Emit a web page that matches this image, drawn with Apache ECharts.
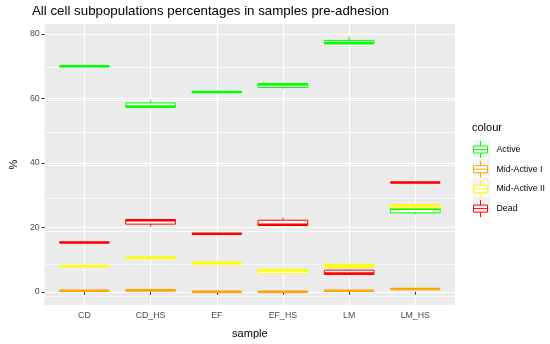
<!DOCTYPE html>
<html><head><meta charset="utf-8">
<script src="https://cdn.jsdelivr.net/npm/echarts@6/dist/echarts.min.js"></script>
<style>html,body{margin:0;padding:0;background:#fff}#c{width:550px;height:344px}</style>
</head><body><div id="c"></div>
<script>
const samples = ['CD','CD_HS','EF','EF_HS','LM','LM_HS'];
const groups = ['Active','Mid-Active I','Mid-Active II','Dead'];
const colours = ['#00FF00','#FFA500','#FFFF00','#FF0000'];
// each entry: [min, Q1, median, Q3, max]
const active = [[69.8,69.9,70.0,70.05,70.1],[57.2,57.2,57.5,58.6,59.6],[61.8,61.9,62.0,62.1,62.2],[63.0,63.4,64.3,64.6,64.7],[77.0,77.0,77.2,78.0,79.2],[24.0,24.5,25.8,25.9,26.0]];
const midActive1 = [[0.2,0.25,0.3,0.35,0.4],[0.2,0.3,0.45,0.6,0.7],[0.0,0.0,0.05,0.1,0.1],[0.0,0.0,0.05,0.1,0.1],[0.2,0.25,0.3,0.35,0.4],[0.8,0.85,0.9,0.95,1.0]];
const midActive2 = [[7.9,7.95,8.0,8.1,8.1],[10.3,10.35,10.6,10.8,10.85],[8.5,8.6,8.9,9.2,9.7],[5.5,5.6,6.6,6.8,6.8],[7.6,7.7,8.0,8.5,8.6],[25.9,26.0,26.8,26.9,27.3]];
const dead = [[15.2,15.25,15.3,15.35,15.4],[20.3,21.0,22.2,22.4,22.4],[17.9,17.95,18.0,18.05,18.1],[20.6,20.6,20.8,22.2,23.0],[5.2,5.4,5.7,6.7,6.9],[33.8,33.85,33.9,33.95,34.0]];
const yMajor = [0,20,40,60,80];
const groupData = [active, midActive1, midActive2, dead];

const xPos = samples.map((s,i)=>i+1);

function renderItem(params, api){
  const x = api.value(0);
  const pMin = api.coord([x, api.value(1)]);
  const pQ1 = api.coord([x, api.value(2)]);
  const pMed = api.coord([x, api.value(3)]);
  const pQ3 = api.coord([x, api.value(4)]);
  const pMax = api.coord([x, api.value(5)]);
  const half = api.size([1,0])[0]*0.75/2;
  const cx = pMed[0];
  const color = api.visual('color');
  return {type:'group', children:[
    {type:'line', shape:{x1:cx,y1:pQ3[1],x2:cx,y2:pMax[1]}, style:{stroke:color,lineWidth:1}},
    {type:'line', shape:{x1:cx,y1:pQ1[1],x2:cx,y2:pMin[1]}, style:{stroke:color,lineWidth:1}},
    {type:'rect', shape:{x:cx-half,y:pQ3[1],width:2*half,height:Math.max(pQ1[1]-pQ3[1],0)}, style:{fill:'#FFFFFF',stroke:color,lineWidth:1}},
    {type:'line', shape:{x1:cx-half,y1:pMed[1],x2:cx+half,y2:pMed[1]}, style:{stroke:color,lineWidth:2.5}}
  ]};
}

const series = groups.map((g,gi)=>({
  name:g, type:'custom', xAxisIndex:0, yAxisIndex:0,
  itemStyle:{color:colours[gi]},
  renderItem: renderItem,
  encode:{x:0, y:[1,2,3,4,5]},
  data: groupData[gi].map((v,i)=>[xPos[i]].concat(v)),
  z: 3+gi
}));

const keyTop = 140.5, keyStep = 18.7;
const iconPath = 'path://M1,5 H15 V12 H1 Z M1,8.5 H15 M8,0 V5 M8,12 V17';
const chart = echarts.init(document.getElementById('c'), null, {renderer:'canvas'});
chart.setOption({
  animation:false,
  backgroundColor:'#FFFFFF',
  textStyle:{fontFamily:'Liberation Sans, Arial, sans-serif'},
  title:[
    {text:'All cell subpopulations percentages in samples pre-adhesion', left:32, top:5, padding:0,
     textStyle:{fontSize:13.3,fontWeight:'normal',color:'#000',fontFamily:'Liberation Sans, Arial, sans-serif'}},
    {text:'colour', left:472, top:122, padding:0, textStyle:{fontSize:11,fontWeight:'normal',color:'#000',fontFamily:'Liberation Sans, Arial, sans-serif'}}
  ],
  graphic: groups.map((g,i)=>({type:'rect', left:473, top:keyTop+i*keyStep, z:0,
     shape:{width:17,height:17}, style:{fill:'#F2F2F2'}})),
  legend:{
    orient:'vertical', left:473, top:keyTop, padding:0, itemWidth:16, itemHeight:17, itemGap:1.7,
    textStyle:{fontSize:8.8,color:'#000',fontFamily:'Liberation Sans, Arial, sans-serif', padding:[0,0,0,3]},
    data: groups.map((g,i)=>({name:g, icon:iconPath, itemStyle:{color:'#FFFFFF',borderColor:colours[i],borderWidth:1}}))
  },
  grid:[
    {left:32, top:24, width:423, height:286, show:true, backgroundColor:'#EBEBEB', borderWidth:0, containLabel:false},
    {left:32, top:34.17, width:423, height:262.39, show:false, containLabel:false}
  ],
  xAxis:[{
    type:'value', gridIndex:0, min:0.4, max:6.6,
    name:'sample', nameLocation:'middle', nameGap:23,
    nameTextStyle:{fontSize:11,color:'#000'},
    axisLine:{show:false},
    axisTick:{show:true, length:3, customValues:xPos, lineStyle:{color:'#333',width:1}},
    axisLabel:{customValues:xPos, formatter:(v)=>samples[Math.round(v)-1]||'', fontSize:8.8, color:'#4D4D4D', margin:6},
    splitLine:{show:true, lineStyle:{color:'#FFFFFF',width:1.1}},
    z:2
  },{
    type:'value', gridIndex:1, min:0, max:1, show:false
  }],
  yAxis:[{
    type:'value', gridIndex:0, min:-4.1, max:83.1,
    name:'%', nameLocation:'middle', nameGap:20, nameRotate:90,
    nameTextStyle:{fontSize:11,color:'#000'},
    axisLine:{show:false},
    axisTick:{show:true, length:3, customValues:yMajor, lineStyle:{color:'#333',width:1}},
    axisLabel:{customValues:yMajor, fontSize:8.8, color:'#4D4D4D', margin:5},
    splitLine:{show:true, lineStyle:{color:'#FFFFFF',width:1.1}},
    z:2
  },{
    type:'value', gridIndex:1, min:0, max:80, interval:10, show:true,
    axisLine:{show:false}, axisTick:{show:false}, axisLabel:{show:false},
    splitLine:{show:true, lineStyle:{color:'#FFFFFF',width:0.7}},
    z:1
  }],
  series: series
});
</script></body></html>
